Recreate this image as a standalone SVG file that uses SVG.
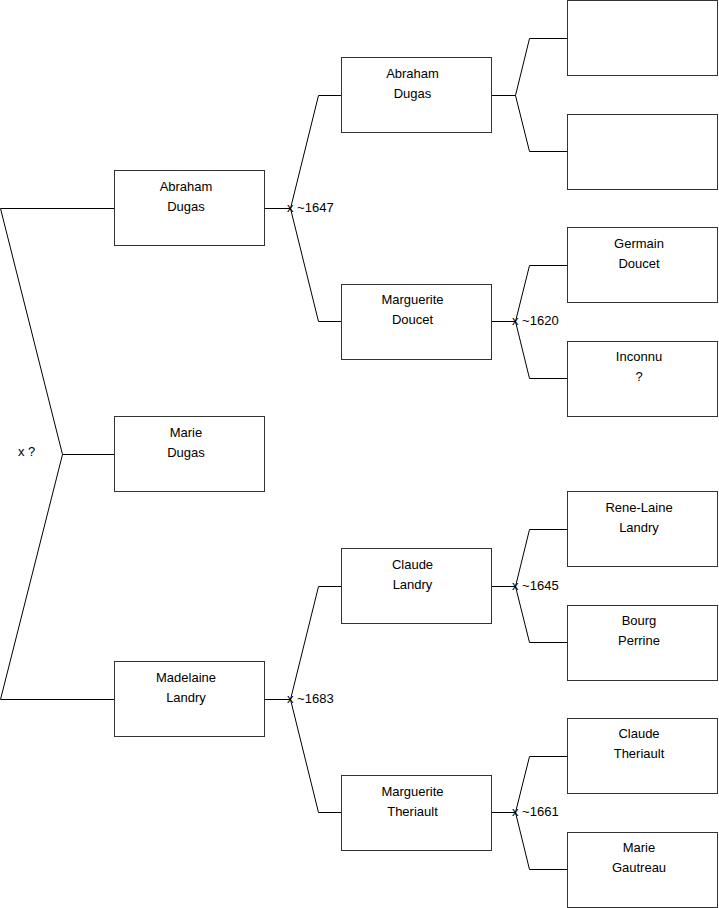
<svg xmlns="http://www.w3.org/2000/svg" width="719" height="908" viewBox="0 0 719 908">
<style>
.box{fill:#fff;stroke:#333;stroke-width:1}
.t{font-family:"Liberation Sans",Arial,sans-serif;font-size:13px;fill:#000;text-anchor:middle}
.l{font-family:"Liberation Sans",Arial,sans-serif;font-size:13px;fill:#000}
.c{fill:none;stroke:#000;stroke-width:1}
</style>
<rect width="719" height="908" fill="#fff"/>
<g id="connectors">
<polyline class="c" points="114,208.5 0.5,208.5 62.5,454.5 0.5,699.5 114,699.5"/>
<line class="c" x1="62.5" y1="454.5" x2="114" y2="454.5"/>
<line class="c" x1="265" y1="208.5" x2="290.5" y2="208.5"/>
<polyline class="c" points="341,95.5 318.5,95.5 290.5,208.5 318.5,321.5 341,321.5"/>
<line class="c" x1="265" y1="699.5" x2="290.5" y2="699.5"/>
<polyline class="c" points="341,586.5 318.5,586.5 290.5,699.5 318.5,812.5 341,812.5"/>
<line class="c" x1="492" y1="95.5" x2="515.5" y2="95.5"/>
<polyline class="c" points="567,38.5 529.5,38.5 515.5,95.5 529.5,151.5 567,151.5"/>
<line class="c" x1="492" y1="321.5" x2="515.5" y2="321.5"/>
<polyline class="c" points="567,265.5 529.5,265.5 515.5,321.5 529.5,378.5 567,378.5"/>
<line class="c" x1="492" y1="586.5" x2="515.5" y2="586.5"/>
<polyline class="c" points="567,529.5 529.5,529.5 515.5,586.5 529.5,642.5 567,642.5"/>
<line class="c" x1="492" y1="812.5" x2="515.5" y2="812.5"/>
<polyline class="c" points="567,756.5 529.5,756.5 515.5,812.5 529.5,869.5 567,869.5"/>
<text class="l" x="18" y="456">x ?</text>
<text class="l" x="287" y="212">x ~1647</text>
<text class="l" x="287" y="703">x ~1683</text>
<text class="l" x="512" y="325">x ~1620</text>
<text class="l" x="512" y="590">x ~1645</text>
<text class="l" x="512" y="816">x ~1661</text>
</g>
<g id="n1"><rect class="box" x="114.5" y="170.5" width="150" height="75"/><text class="t" x="186" y="191">Abraham</text><text class="t" x="186" y="211">Dugas</text></g>
<g id="n2"><rect class="box" x="114.5" y="416.5" width="150" height="75"/><text class="t" x="186" y="437">Marie</text><text class="t" x="186" y="457">Dugas</text></g>
<g id="n3"><rect class="box" x="114.5" y="661.5" width="150" height="75"/><text class="t" x="186" y="682">Madelaine</text><text class="t" x="186" y="702">Landry</text></g>
<g id="n4"><rect class="box" x="341.5" y="57.5" width="150" height="75"/><text class="t" x="412.5" y="78">Abraham</text><text class="t" x="412.5" y="98">Dugas</text></g>
<g id="n5"><rect class="box" x="341.5" y="284.5" width="150" height="75"/><text class="t" x="412.5" y="304">Marguerite</text><text class="t" x="412.5" y="324">Doucet</text></g>
<g id="n6"><rect class="box" x="341.5" y="548.5" width="150" height="75"/><text class="t" x="412.5" y="569">Claude</text><text class="t" x="412.5" y="589">Landry</text></g>
<g id="n7"><rect class="box" x="341.5" y="775.5" width="150" height="75"/><text class="t" x="412.5" y="796">Marguerite</text><text class="t" x="412.5" y="816">Theriault</text></g>
<g id="n8"><rect class="box" x="567.5" y="0.5" width="150" height="75"/></g>
<g id="n9"><rect class="box" x="567.5" y="114.5" width="150" height="75"/></g>
<g id="n10"><rect class="box" x="567.5" y="227.5" width="150" height="75"/><text class="t" x="639" y="248">Germain</text><text class="t" x="639" y="268">Doucet</text></g>
<g id="n11"><rect class="box" x="567.5" y="341.5" width="150" height="75"/><text class="t" x="639" y="361">Inconnu</text><text class="t" x="639" y="381">?</text></g>
<g id="n12"><rect class="box" x="567.5" y="491.5" width="150" height="75"/><text class="t" x="639" y="512">Rene-Laine</text><text class="t" x="639" y="532">Landry</text></g>
<g id="n13"><rect class="box" x="567.5" y="605.5" width="150" height="75"/><text class="t" x="639" y="625">Bourg</text><text class="t" x="639" y="645">Perrine</text></g>
<g id="n14"><rect class="box" x="567.5" y="718.5" width="150" height="75"/><text class="t" x="639" y="738">Claude</text><text class="t" x="639" y="758">Theriault</text></g>
<g id="n15"><rect class="box" x="567.5" y="832.5" width="150" height="75"/><text class="t" x="639" y="852">Marie</text><text class="t" x="639" y="872">Gautreau</text></g>
</svg>
